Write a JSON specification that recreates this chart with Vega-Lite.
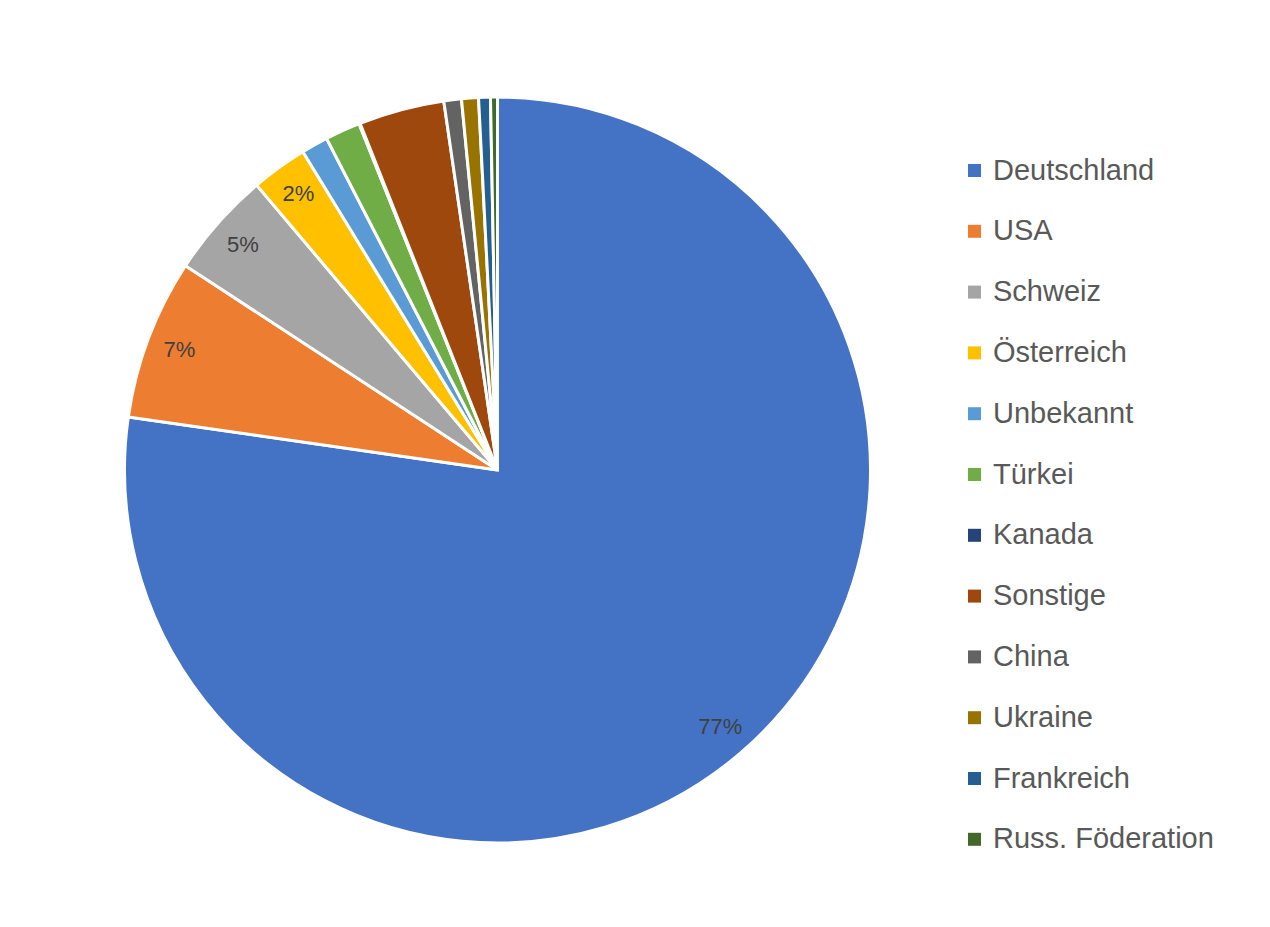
{
  "$schema": "https://vega.github.io/schema/vega-lite/v6.json",
  "width": 995,
  "height": 920,
  "padding": {"left": 0, "top": 10, "right": 0, "bottom": 0},
  "background": "white",
  "config": {"view": {"stroke": null}},
  "data": {
    "values": [
      {"land": "Deutschland", "share": 0.772, "rank": 1},
      {"land": "USA", "share": 0.0695, "rank": 2},
      {"land": "Schweiz", "share": 0.046, "rank": 3},
      {"land": "Österreich", "share": 0.0243, "rank": 4},
      {"land": "Unbekannt", "share": 0.0116, "rank": 5},
      {"land": "Türkei", "share": 0.0152, "rank": 6},
      {"land": "Kanada", "share": 0.0005, "rank": 7},
      {"land": "Sonstige", "share": 0.037, "rank": 8},
      {"land": "China", "share": 0.0076, "rank": 9},
      {"land": "Ukraine", "share": 0.0073, "rank": 10},
      {"land": "Frankreich", "share": 0.0051, "rank": 11},
      {"land": "Russ. Föderation", "share": 0.003, "rank": 12}
    ]
  },
  "encoding": {
    "theta": {"field": "share", "type": "quantitative", "stack": true},
    "order": {"field": "rank", "type": "quantitative"}
  },
  "layer": [
    {
      "mark": {"type": "arc", "outerRadius": 373, "stroke": "white", "strokeWidth": 3},
      "encoding": {
        "color": {
          "field": "land",
          "type": "nominal",
          "scale": {
            "domain": ["Deutschland", "USA", "Schweiz", "Österreich", "Unbekannt", "Türkei", "Kanada", "Sonstige", "China", "Ukraine", "Frankreich", "Russ. Föderation"],
            "range": ["#4472C4", "#ED7D31", "#A5A5A5", "#FFC000", "#5B9BD5", "#70AD47", "#264478", "#9E480E", "#636363", "#997300", "#255E91", "#43682B"]
          },
          "legend": {
            "title": null,
            "orient": "none",
            "legendX": 960,
            "legendY": 146,
            "padding": 0,
            "symbolType": "square",
            "symbolSize": 169,
            "symbolStrokeWidth": 0,
            "labelFont": "Liberation Sans",
            "labelFontSize": 29,
            "labelColor": "#595959",
            "labelOffset": 4,
            "labelLimit": 400,
            "rowPadding": 30.8
          }
        }
      }
    },
    {
      "mark": {"type": "text", "radius": 340, "font": "Liberation Sans", "fontSize": 22, "fill": "#404040"},
      "encoding": {
        "text": {
          "condition": {"test": "datum.rank <= 4", "field": "share", "type": "quantitative", "format": ".0%"},
          "value": ""
        }
      }
    }
  ]
}
